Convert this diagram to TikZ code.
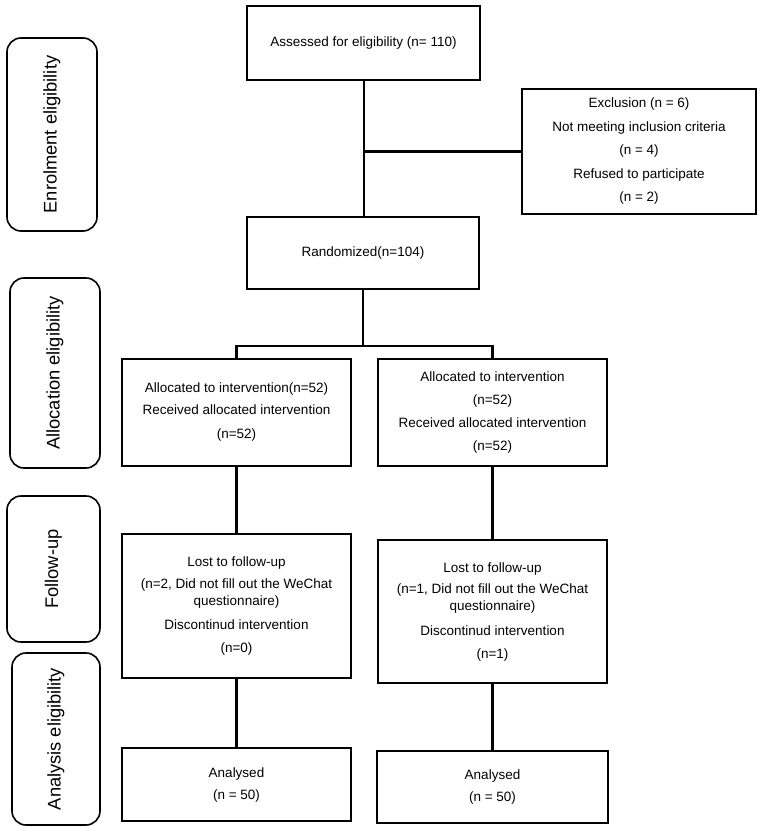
\documentclass[tikz,border=0pt]{standalone}
\usepackage{fontspec}
\setmainfont{Liberation Sans}
\begin{document}
\begin{tikzpicture}[x=1pt,y=-1pt,
  box/.style={draw, line width=2.6pt, rectangle, inner sep=0pt, align=center,
              font=\fontsize{13.5}{23}\selectfont},
  side/.style={draw, line width=1.6pt, rounded corners=14pt, inner sep=0pt,
               font=\fontsize{18.3}{22}\selectfont},
  conn/.style={line width=2.6pt}]
\useasboundingbox (0,0) rectangle (765,832);

% side labels
\node[side, rotate=90, minimum width=193pt, minimum height=90pt] (sEn) at (52,134.5) {Enrolment eligibility};
\node[side, rotate=90, minimum width=190pt, minimum height=90pt] (sAl) at (55,373) {Allocation eligibility};
\node[side, rotate=90, minimum width=146pt, minimum height=93pt] (sFu) at (53.5,569) {Follow-up};
\node[side, rotate=90, minimum width=172pt, minimum height=88pt] (sAn) at (56,739) {Analysis eligibility};

% main boxes
\node[box, minimum width=233pt, minimum height=74pt] (assess) at (363.5,43) {Assessed for eligibility (n= 110)};
\node[box, minimum width=234pt, minimum height=125pt] (excl) at (639,151.5)
  {Exclusion (n = 6)\\[0.5pt] Not meeting inclusion criteria\\[0.5pt] (n = 4)\\[0.5pt] Refused to participate\\[0.5pt] (n = 2)};
\node[box, minimum width=232pt, minimum height=72pt] (rand) at (363,253) {Randomized(n=104)};

\node[box, minimum width=229pt, minimum height=107pt] (allocL) at (236.5,412.5)
  {Allocated to intervention(n=52)\\[-1pt] Received allocated intervention\\[1pt] (n=52)};
\node[box, minimum width=229pt, minimum height=107pt] (allocR) at (492.5,412.5)
  {Allocated to intervention\\ (n=52)\\ Received allocated intervention\\ (n=52)};

\node[box, minimum width=229pt, minimum height=144pt] (fuL) at (236.5,606)
  {Lost to follow-up\\[-1pt] (n=2, Did not fill out the WeChat\\[-6pt] questionnaire)\\[1pt] Discontinud intervention\\ (n=0)};
\node[box, minimum width=229pt, minimum height=143pt] (fuR) at (492.5,611.5)
  {Lost to follow-up\\[-2pt] (n=1, Did not fill out the WeChat\\[-6pt] questionnaire)\\[2pt] Discontinud intervention\\ (n=1)};

\node[box, minimum width=229pt, minimum height=73pt] (anL) at (236.5,784.5) {Analysed\\[-1pt] (n = 50)};
\node[box, minimum width=231pt, minimum height=72pt] (anR) at (492.5,787) {Analysed\\[-1pt] (n = 50)};

% connectors
\coordinate (jA) at (364,151.5);
\coordinate (jR) at (363,346);
\draw[conn] (assess.south -| jA) -- (rand.north -| jA);
\draw[conn] (jA) -- (excl.west);
\draw[conn] (rand.south) -- (jR);
\draw[conn] (allocL.north) |- (jR) -| (allocR.north);
\draw[conn] (allocL.south) -- (fuL.north);
\draw[conn] (allocR.south) -- (fuR.north);
\draw[conn] (fuL.south) -- (anL.north);
\draw[conn] (fuR.south) -- (anR.north);
\end{tikzpicture}
\end{document}
